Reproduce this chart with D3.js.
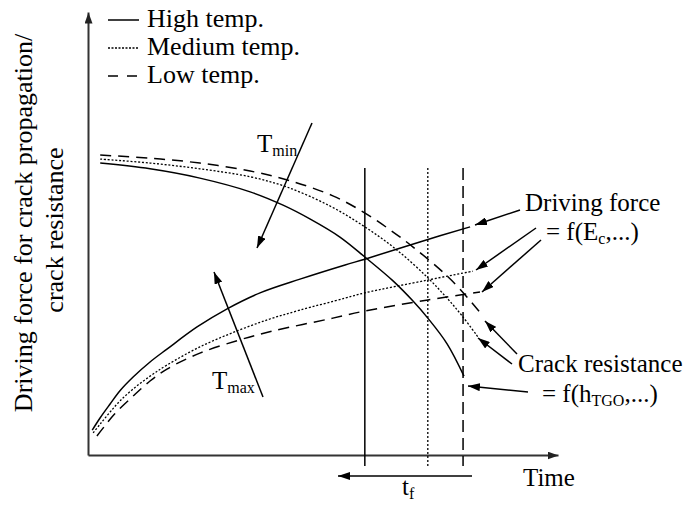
<!DOCTYPE html>
<html>
<head>
<meta charset="utf-8">
<script src="https://cdn.jsdelivr.net/npm/d3@7"></script>
<style>
  body { margin: 0; background: #fff; }
  text { font-family: "Liberation Serif", "Times New Roman", serif; fill: #000; }
</style>
</head>
<body>
<svg id="chart" width="690" height="508"></svg>
<script>
// values, [time, value] in arbitrary units (0-10)
const legendLabels = ['High temp.', 'Medium temp.', 'Low temp.'];

// driving force for crack propagation (rising)
const driveHigh = [[0.09, 0.56], [0.26, 0.84], [0.47, 1.15], [0.68, 1.45], [0.96, 1.76], [1.32, 2.10],
  [1.68, 2.39], [2.32, 2.89], [2.96, 3.30], [3.66, 3.66], [4.51, 3.97], [5.47, 4.29], [5.89, 4.42],
  [7.06, 4.81], [8.13, 5.15]];
const driveMed = [[0.11, 0.50], [0.26, 0.70], [0.47, 0.97], [0.68, 1.22], [0.96, 1.49], [1.32, 1.78],
  [1.68, 2.03], [2.38, 2.44], [3.17, 2.80], [3.87, 3.07], [4.51, 3.27], [5.47, 3.54], [5.89, 3.66],
  [7.23, 3.95], [8.19, 4.15]];
const driveLow = [[0.19, 0.43], [0.36, 0.66], [0.57, 0.93], [0.96, 1.33], [1.32, 1.67], [1.68, 1.94],
  [2.38, 2.30], [3.23, 2.60], [3.94, 2.80], [5.21, 3.09], [5.89, 3.25], [7.23, 3.50], [8.34, 3.68]];

// crack resistance (falling)
const resistHigh = [[0.26, 6.59], [1.32, 6.46], [2.38, 6.25], [3.45, 5.94], [4.15, 5.64], [4.72, 5.33],
  [5.36, 4.92], [5.89, 4.47], [6.49, 3.93], [6.91, 3.48], [7.23, 3.09], [7.64, 2.51], [8.00, 1.78]];
const resistMed = [[0.26, 6.68], [1.32, 6.59], [2.38, 6.46], [3.45, 6.28], [4.23, 6.05], [5.15, 5.62],
  [5.89, 5.15], [6.57, 4.63], [7.23, 4.00], [7.64, 3.54], [7.96, 3.14], [8.30, 2.66]];
const resistLow = [[0.26, 6.77], [1.32, 6.70], [2.38, 6.59], [3.45, 6.41], [4.30, 6.19], [5.21, 5.85],
  [5.85, 5.49], [6.43, 5.08], [6.91, 4.70], [7.55, 4.13], [7.91, 3.75], [8.40, 3.14]];

// time to failure for each temperature
const failureTimes = [5.89, 7.23, 7.98];

const width = 690, height = 508;
const svg = d3.select('#chart');

const x = d3.scaleLinear().domain([0, 10]).range([88, 558]);
const y = d3.scaleLinear().domain([0, 10]).range([455, 12]);

const dashes = [null, '2,1.8', '11,7'];
const widths = [1.5, 1.3, 1.5];

// arrow heads
const defs = svg.append('defs');
defs.append('marker')
  .attr('id', 'arrow')
  .attr('viewBox', '0 0 12 8')
  .attr('refX', 12).attr('refY', 4)
  .attr('markerWidth', 12).attr('markerHeight', 8)
  .attr('markerUnits', 'userSpaceOnUse')
  .attr('orient', 'auto')
  .append('path').attr('d', 'M0,0L12,4L0,8z').attr('fill', '#000');
defs.append('marker')
  .attr('id', 'axisArrow')
  .attr('viewBox', '0 0 11 8')
  .attr('refX', 11).attr('refY', 4)
  .attr('markerWidth', 11).attr('markerHeight', 8)
  .attr('markerUnits', 'userSpaceOnUse')
  .attr('orient', 'auto')
  .append('path').attr('d', 'M0,0L11,4L0,8z').attr('fill', '#222');

// axes without ticks
const xAxis = svg.append('g')
  .attr('transform', `translate(0,${y(0)})`)
  .call(d3.axisBottom(x).ticks(0).tickSizeOuter(0));
const yAxis = svg.append('g')
  .attr('transform', `translate(${x(0)},0)`)
  .call(d3.axisLeft(y).ticks(0).tickSizeOuter(0));
[xAxis, yAxis].forEach(ax => {
  ax.select('.domain')
    .attr('stroke', '#333')
    .attr('stroke-width', 2)
    .attr('marker-end', 'url(#axisArrow)');
});

// failure time markers
svg.selectAll('.tf')
  .data(failureTimes)
  .enter().append('line')
  .attr('class', 'tf')
  .attr('x1', d => x(d)).attr('x2', d => x(d))
  .attr('y1', y(6.48)).attr('y2', y(-0.25))
  .attr('stroke', '#000')
  .attr('stroke-width', (d, i) => widths[i])
  .attr('stroke-dasharray', (d, i) => [null, '2,2', '12,6'][i]);

// curves
const line = d3.line()
  .x(d => x(d[0]))
  .y(d => y(d[1]))
  .curve(d3.curveCatmullRom.alpha(0.5));

const curves = [
  { data: driveHigh, k: 0 }, { data: driveMed, k: 1 }, { data: driveLow, k: 2 },
  { data: resistHigh, k: 0 }, { data: resistMed, k: 1 }, { data: resistLow, k: 2 }
];
svg.selectAll('.curve')
  .data(curves)
  .enter().append('path')
  .attr('class', 'curve')
  .attr('d', d => line(d.data))
  .attr('fill', 'none')
  .attr('stroke', '#000')
  .attr('stroke-width', d => widths[d.k])
  .attr('stroke-dasharray', d => dashes[d.k]);

// annotation arrows (pixel layout)
const arrows = [
  [312, 123, 257, 248],   // T min
  [263, 397, 214, 272],   // T max
  [520, 210, 475, 225],   // driving force
  [536, 228, 476, 270],
  [541, 240, 482, 292],
  [517, 354, 485, 321],   // crack resistance
  [512, 364, 478, 338],
  [528, 392, 468, 386],
  [472, 476, 338, 476]    // t_f
];
svg.selectAll('.ann')
  .data(arrows)
  .enter().append('line')
  .attr('class', 'ann')
  .attr('x1', d => d[0]).attr('y1', d => d[1])
  .attr('x2', d => d[2]).attr('y2', d => d[3])
  .attr('stroke', '#000')
  .attr('stroke-width', 1.5)
  .attr('marker-end', 'url(#arrow)');

// legend
const legend = svg.append('g');
legendLabels.forEach((lab, i) => {
  const ly = 20 + i * 28;
  legend.append('line')
    .attr('x1', 108).attr('x2', 139)
    .attr('y1', ly).attr('y2', ly)
    .attr('stroke', '#000')
    .attr('stroke-width', widths[i])
    .attr('stroke-dasharray', [null, '2,1.5', '10,9'][i]);
  legend.append('text')
    .attr('x', 147).attr('y', ly + 7)
    .attr('font-size', 26)
    .text(lab);
});

// y label
const yl = svg.append('g').attr('font-size', 26).attr('text-anchor', 'middle');
yl.append('text')
  .attr('transform', 'translate(32,223) rotate(-90)')
  .text('Driving force for crack propagation/');
yl.append('text')
  .attr('transform', 'translate(63,230) rotate(-90)')
  .text('crack resistance');

// text with subscript helper
function subText(px, py, main, sub, rest, size) {
  const t = svg.append('text').attr('x', px).attr('y', py).attr('font-size', size || 25);
  t.append('tspan').text(main);
  t.append('tspan').attr('font-size', 16).attr('dy', 4).text(sub);
  if (rest) t.append('tspan').attr('dy', -4).text(rest);
  return t;
}

svg.append('text').attr('x', 523).attr('y', 486).attr('font-size', 25).text('Time');
subText(257, 152, 'T', 'min');
subText(212, 389, 'T', 'max');
subText(402, 495, 't', 'f');

svg.append('text').attr('x', 525).attr('y', 211).attr('font-size', 25).text('Driving force');
subText(546, 240, '= f(E', 'c', ',...)');
svg.append('text').attr('x', 518).attr('y', 372).attr('font-size', 25).text('Crack resistance');
subText(542, 402, '= f(h', 'TGO', ',...)');
</script>
</body>
</html>
